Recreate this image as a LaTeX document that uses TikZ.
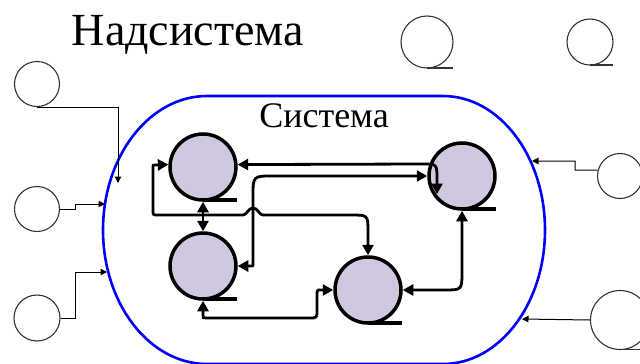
\documentclass[tikz,border=0pt]{standalone}
\usepackage{fontspec}
\setmainfont{Liberation Serif}
\usetikzlibrary{arrows.meta}
\definecolor{procfill}{RGB}{208,200,222}
\begin{document}
\begin{tikzpicture}[x=1pt,y=-1pt,
  proc/.style={circle,draw=black,line width=3.5pt,fill=procfill,minimum size=66pt,inner sep=0pt},
  tailline/.style={line width=3.5pt},
  link/.style={line width=2.8pt,{Triangle[length=10.5pt,width=11pt]}-{Triangle[length=10.5pt,width=11pt]}},
  ext/.style={circle,draw=black!80,line width=1.1pt,inner sep=0pt},
  exttail/.style={line width=1.1pt,draw=black!80},
  inlink/.style={line width=1pt,-{Triangle[length=6.5pt,width=6.5pt]}},
  boundary/.style={draw=blue,line width=2.6pt}]
\useasboundingbox (0,0) rectangle (640,364);

% system boundary
\draw[boundary] (207,96) -- (443,96)
  .. controls (499.3,96) and (545,156) .. (545,230)
  .. controls (545,304) and (499.3,364) .. (443,364)
  -- (207,364)
  .. controls (149.6,364) and (103,304) .. (103,230)
  .. controls (103,156) and (149.6,96) .. (207,96) -- cycle;

% texts
\node[anchor=base,font=\fontsize{46}{50}\selectfont,inner sep=0pt] (title) at (188,45) {Надсистема};
\node[anchor=base,font=\fontsize{36}{40}\selectfont,inner sep=0pt] (sys) at (324,127) {Система};

% outer elements
\node[ext,minimum size=45pt] (E1) at (37,84) {};
\node[ext,minimum size=45pt] (E2) at (37,209) {};
\node[ext,minimum size=46pt] (E3) at (37,318) {};
\node[ext,minimum size=52pt] (T1) at (427,42) {};
\node[ext,minimum size=46pt] (T2) at (590,42) {};
\node[ext,minimum size=45pt] (E4) at (620,176) {};
\node[ext,minimum size=59pt] (E5) at (620,320) {};
\draw[exttail] (T1.center) ++(0,26) -- ++(26,0);
\draw[exttail] (T2.center) ++(0,23) -- ++(23,0);
\draw[exttail] (E5.center) ++(0,29.5) -- ++(30,0);

\coordinate (p1) at (118,183);
\coordinate (p2) at (105,204);
\coordinate (p3) at (107,272);
\coordinate (p4) at (532,161);
\coordinate (p5) at (522,319);
\draw[inlink] (E1.south) -| (p1);
\draw[inlink] (E2.east) -- (75,209) -- (75,204) -- (p2);
\draw[inlink] (E3.east) -- (75,318) |- (p3);
\draw[inlink] (E4.165) -- (575,170) -- (575,161) -- (p4);
\draw[inlink] (E5.west) -- (p5);

% processes
\node[proc] (A) at (203,167) {};
\node[proc] (B) at (203,266) {};
\node[proc] (C) at (462,176) {};
\node[proc] (D) at (368,290) {};
\foreach \n in {A,B,C,D}{
  \draw[tailline] (\n.center) ++(0,33) -- ++(34,0);
}

% links
\draw[link] (A.4) -- (422,164) .. controls (437,164) .. (437,179) -- (437,194);
\draw[link] (B.east) -- (251,266) .. controls (253,266) .. (253,264) -- (253,196)
  .. controls (253,176) .. (273,176) -- (C.west);
\draw[link] (A.176) -- (155,165) .. controls (153,165) .. (153,167) -- (153,210)
  .. controls (153,215) .. (158,215) -- (243,215)
  .. controls (247,215) and (248,208) .. (253,208)
  .. controls (258,208) and (259,215) .. (263,215) -- (351,215)
  .. controls (368,215) .. (368,232) -- (D.north);
\draw[link] (A.south) -- (B.north);
\draw[link] (B.south) -- (203,315) .. controls (203,318) .. (206,318) -- (309,318)
  .. controls (317,318) .. (317,310) -- (317,297)
  .. controls (317,290) .. (320,290) -- (D.west);
\draw[link] (D.east) -- (444,290) .. controls (462,290) .. (462,272) -- (C.south);
\end{tikzpicture}
\end{document}
